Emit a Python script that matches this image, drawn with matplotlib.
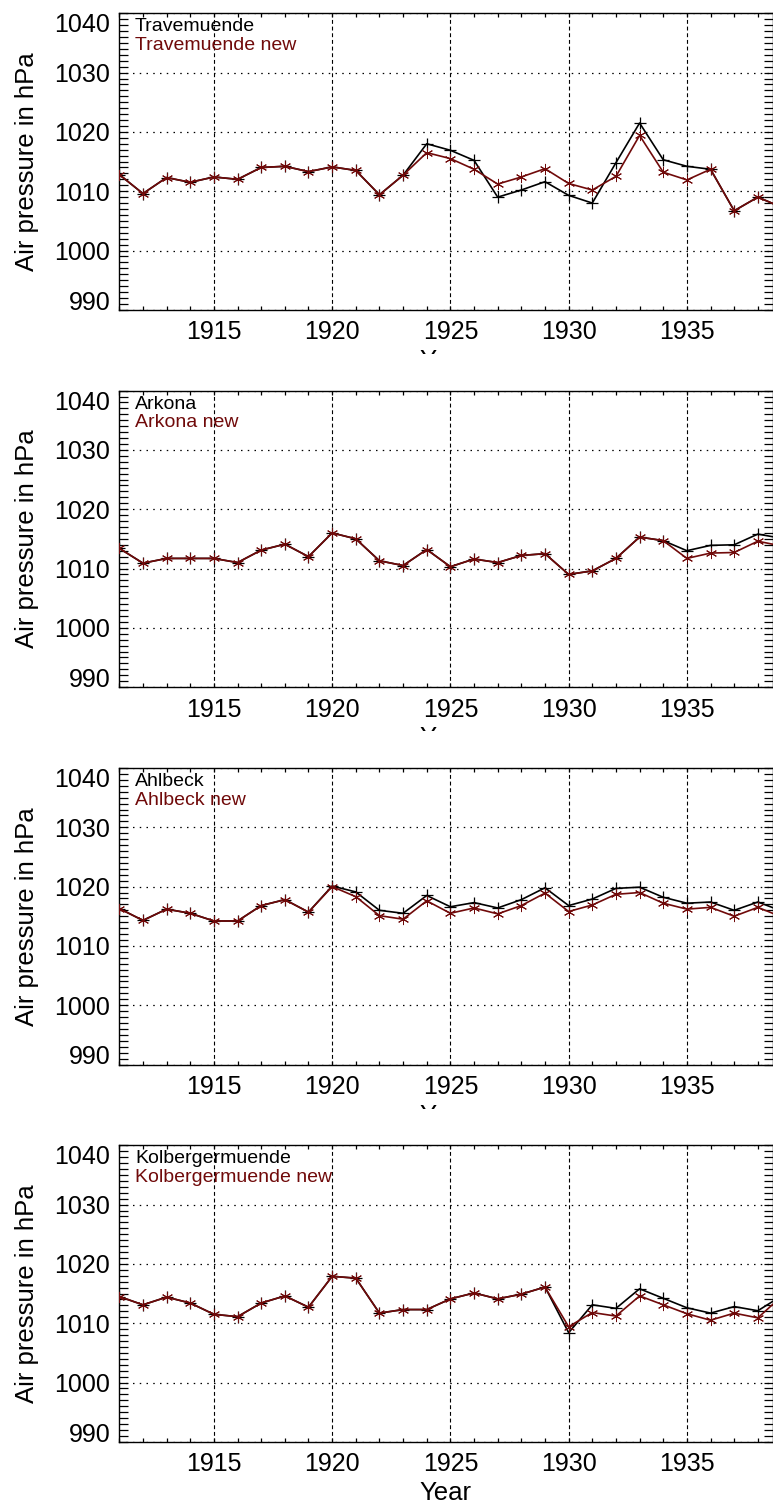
import numpy as np
import matplotlib
matplotlib.use('Agg')
import matplotlib.pyplot as plt
from matplotlib.ticker import MultipleLocator
from matplotlib.patches import Rectangle

plt.rcParams['font.family'] = ['Liberation Sans', 'DejaVu Sans']

# annual mean air pressure (hPa), original and corrected series
years = np.arange(1911, 1940)

stations = ['Travemuende', 'Arkona', 'Ahlbeck', 'Kolbergermuende']

trave_old = [1012.8, 1009.6, 1012.3, 1011.5, 1012.4, 1012.0, 1014.0, 1014.2, 1013.3, 1014.1,
             1013.5, 1009.4, 1012.7, 1018.0, 1016.9, 1015.2, 1009.0, 1010.2, 1011.6, 1009.3,
             1008.0, 1014.8, 1021.5, 1015.3, 1014.2, 1013.7, 1006.7, 1009.0, 1007.3]
trave_new = [1012.8, 1009.6, 1012.3, 1011.5, 1012.4, 1012.0, 1014.0, 1014.2, 1013.3, 1014.1,
             1013.5, 1009.4, 1012.7, 1016.5, 1015.5, 1013.7, 1011.2, 1012.4, 1013.8, 1011.3,
             1010.2, 1012.5, 1019.4, 1013.2, 1011.9, 1013.7, 1006.7, 1009.0, 1007.3]

arkona_old = [1013.4, 1010.9, 1011.7, 1011.7, 1011.7, 1011.0, 1013.1, 1014.1, 1012.0, 1016.0,
              1015.0, 1011.3, 1010.5, 1013.2, 1010.3, 1011.6, 1011.0, 1012.2, 1012.5, 1009.0,
              1009.6, 1011.7, 1015.3, 1014.7, 1013.0, 1013.9, 1014.0, 1015.8, 1015.1]
arkona_new = [1013.4, 1010.9, 1011.7, 1011.7, 1011.7, 1011.0, 1013.1, 1014.1, 1012.0, 1016.0,
              1015.0, 1011.3, 1010.5, 1013.2, 1010.3, 1011.6, 1011.0, 1012.2, 1012.5, 1009.0,
              1009.6, 1011.7, 1015.3, 1014.7, 1011.7, 1012.6, 1012.7, 1014.6, 1013.8]

ahlbeck_old = [1016.3, 1014.3, 1016.2, 1015.5, 1014.2, 1014.2, 1016.8, 1017.8, 1015.7, 1020.1,
               1019.1, 1016.0, 1015.5, 1018.5, 1016.6, 1017.3, 1016.4, 1017.8, 1019.8, 1016.8,
               1017.9, 1019.7, 1019.9, 1018.2, 1017.2, 1017.4, 1016.0, 1017.4, 1015.9]
ahlbeck_new = [1016.3, 1014.3, 1016.2, 1015.5, 1014.2, 1014.2, 1016.8, 1017.8, 1015.7, 1020.0,
               1018.3, 1015.1, 1014.5, 1017.6, 1015.5, 1016.4, 1015.4, 1016.8, 1018.9, 1015.8,
               1016.9, 1018.7, 1019.0, 1017.2, 1016.2, 1016.5, 1015.0, 1016.5, 1014.9]

kolberg_old = [1014.5, 1013.1, 1014.4, 1013.4, 1011.5, 1011.1, 1013.4, 1014.6, 1012.7, 1017.9,
               1017.6, 1011.7, 1012.3, 1012.3, 1014.1, 1015.1, 1014.1, 1014.9, 1016.1, 1008.4,
               1013.1, 1012.5, 1015.8, 1014.2, 1012.6, 1011.7, 1012.8, 1012.1, 1014.6]
kolberg_new = [1014.5, 1013.1, 1014.4, 1013.4, 1011.5, 1011.1, 1013.4, 1014.6, 1012.7, 1017.9,
               1017.6, 1011.7, 1012.3, 1012.3, 1014.1, 1015.1, 1014.1, 1014.9, 1016.1, 1009.4,
               1011.8, 1011.2, 1014.6, 1013.1, 1011.6, 1010.5, 1011.7, 1010.9, 1014.5]

old_series = [trave_old, arkona_old, ahlbeck_old, kolberg_old]
new_series = [trave_new, arkona_new, ahlbeck_new, kolberg_new]

RED = '#700a0a'
W, H = 773, 1508

fig = plt.figure(figsize=(W / 100, H / 100), dpi=100)

left_px, right_px = 119.3, 772.5
panel_h = 296.5
tops = [13.3, 390.6, 768.0, 1145.3]

for i, (name, old, new) in enumerate(zip(stations, old_series, new_series)):
    top = tops[i]
    ax = fig.add_axes([left_px / W, 1 - (top + panel_h) / H,
                       (right_px - left_px) / W, panel_h / H])

    ax.plot(years, old, color='black', lw=1.2, marker='+', ms=8, mew=0.9, zorder=3)
    ax.plot(years, new, color=RED, lw=1.2, marker=(6, 2, 0), ms=8, mew=0.7, zorder=4)

    ax.set_xlim(1911, 1938.62)
    ax.set_ylim(990, 1040)
    ax.set_xticks(np.arange(1915, 1936, 5))
    ax.xaxis.set_minor_locator(MultipleLocator(1))
    ax.set_yticks(np.arange(990, 1041, 10))
    ax.yaxis.set_minor_locator(MultipleLocator(1))

    ax.tick_params(which='both', direction='in', top=True, right=True,
                   labelsize=18, width=0.9)
    ax.tick_params(axis='x', which='both', length=3, pad=7.5)
    ax.tick_params(axis='y', which='both', length=6.5, pad=6.5)

    ax.xaxis.grid(True, which='major', color='black', lw=0.8,
                  linestyle=(0, (3.5, 2.5)))
    ax.yaxis.grid(True, which='major', color='black', lw=0.9,
                  linestyle=(0, (1.2, 4.2)))

    for sp in ax.spines.values():
        sp.set_linewidth(1.0)

    # end labels sit inside the frame
    yt = ax.yaxis.get_major_ticks()
    yt[0].label1.set_verticalalignment('baseline')
    yt[-1].label1.set_verticalalignment('top')

    ax.set_ylabel('Air pressure in hPa', fontsize=18.5)
    ax.yaxis.set_label_coords(-0.123, 0.5)
    ax.set_xlabel('Year', fontsize=18.5)
    ax.xaxis.set_label_coords(0.5, -0.132)

    ax.text(0.024, 0.954, name, transform=ax.transAxes, fontsize=14,
            va='center', ha='left', color='black')
    ax.text(0.024, 0.892, name + ' new', transform=ax.transAxes, fontsize=14,
            va='center', ha='left', color=RED)

    # blank strip between panels cuts off the upper xlabels
    if i < 3:
        y0 = top + panel_h + 44
        y1 = tops[i + 1] - 3
        fig.add_artist(Rectangle((0, 1 - y1 / H), 1, (y1 - y0) / H,
                                 transform=fig.transFigure, facecolor='white',
                                 edgecolor='none', zorder=5))

fig.savefig('out.png', dpi=100)
